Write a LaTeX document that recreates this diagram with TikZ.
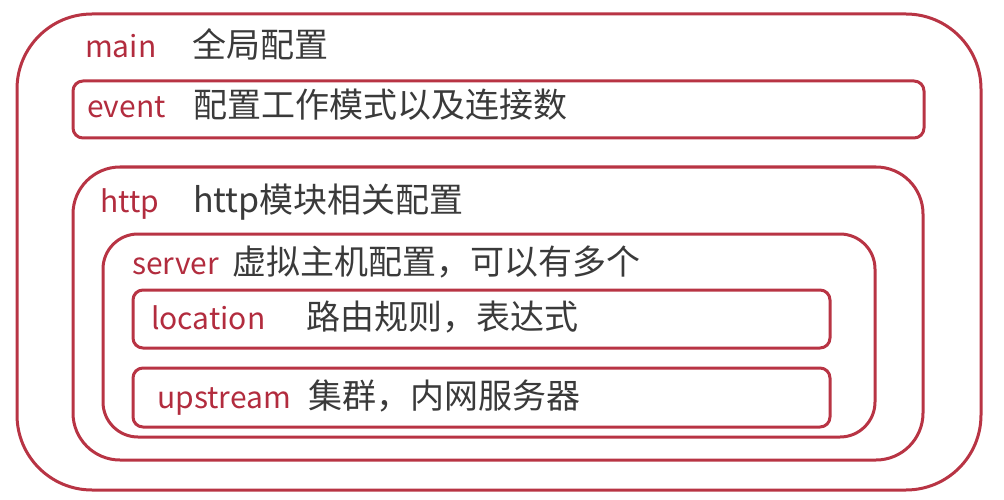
\documentclass[tikz,border=0pt]{standalone}
\usepackage{fontspec}
\setmainfont{Noto Sans CJK SC}
\definecolor{boxred}{RGB}{184,52,68}
\definecolor{labred}{RGB}{178,44,62}
\definecolor{txtgrey}{RGB}{58,58,58}
\tikzset{
  frame/.style={draw=boxred, line width=3pt, inner sep=0pt},
  lab/.style={anchor=base west, inner sep=0pt, text=labred, font=\fontsize{30}{36}\selectfont},
  desc/.style={anchor=base west, inner sep=0pt, text=txtgrey, font=\fontsize{34}{40}\selectfont},
}
\begin{document}
\begin{tikzpicture}[x=1pt,y=-1pt]
\useasboundingbox (0,0) rectangle (1004,500);
\node[frame, rounded corners=75pt, minimum width=964pt, minimum height=476pt] (outer) at (499,252) {};
\node[frame, rounded corners=10pt, minimum width=851pt, minimum height=57pt] (event) at (498.5,109.5) {};
\node[frame, rounded corners=47pt, minimum width=850pt, minimum height=293pt] (http) at (498,313.5) {};
\node[frame, rounded corners=35pt, minimum width=772pt, minimum height=203pt] (server) at (489,335.5) {};
\node[frame, rounded corners=10pt, minimum width=697pt, minimum height=58pt] (location) at (481.5,319) {};
\node[frame, rounded corners=10pt, minimum width=697pt, minimum height=59pt] (upstream) at (481.5,397.5) {};

\node[lab] (l1) at (85,58) {main};
\node[desc] (d1) at (192,58) {全局配置};
\node[lab] (l2) at (87,118) {event};
\node[desc] (d2) at (193,118) {配置工作模式以及连接数};
\node[lab] (l3) at (100,212) {http};
\node[desc] (d3) at (193,212) {http模块相关配置};
\node[lab] (l4) at (132,274) {server};
\node[desc] (d4) at (232,274) {虚拟主机配置，可以有多个};
\node[lab] (l5) at (151,329) {location};
\node[desc] (d5) at (306,329) {路由规则，表达式};
\node[lab] (l6) at (157,408) {upstream};
\node[desc] (d6) at (308,408) {集群，内网服务器};
\end{tikzpicture}
\end{document}
